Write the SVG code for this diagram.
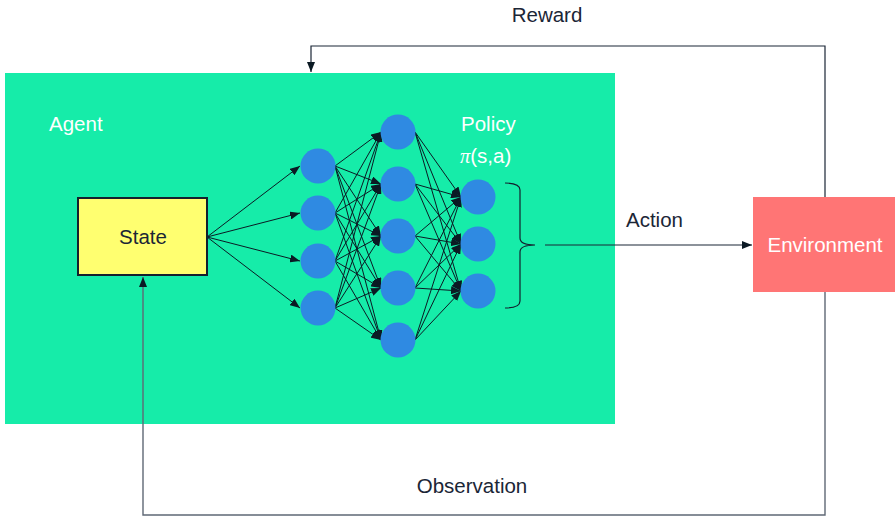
<svg xmlns="http://www.w3.org/2000/svg" width="895" height="516" viewBox="0 0 895 516">
  <style>
    text { font-family: "Liberation Sans", Arial, sans-serif; font-size: 20.5px; }
    .dark { fill: #1b2636; }
    .light { fill: #ffffff; }
    .neuron { fill: #2f8ae2; }
    .edge { stroke: #0b1a24; stroke-width: 1; fill: none; }
    .flow { stroke: #1b2636; stroke-width: 1.2; fill: none; }
  </style>
  <defs>
    <marker id="arr" viewBox="0 0 10 8" refX="10" refY="4" markerWidth="10" markerHeight="8" markerUnits="userSpaceOnUse" orient="auto">
      <path d="M0,0 L10,4 L0,8 z" fill="#0b1a24"/>
    </marker>
  </defs>

  <rect width="895" height="516" fill="#ffffff"/>

  <!-- agent container -->
  <g id="agent">
    <rect x="5" y="73" width="610" height="351" fill="#16eca9"/>
    <text x="49" y="131" class="light">Agent</text>
  </g>

  <!-- environment -->
  <g id="environment">
    <rect x="753" y="197" width="142" height="95" fill="#ff7575"/>
    <text x="825" y="252" class="light" text-anchor="middle">Environment</text>
  </g>

  <!-- connectors -->
  <g id="connectors">
    <!-- reward loop -->
    <path class="flow" d="M825,197 V46 H311 V72" marker-end="url(#arr)"/>
    <!-- observation loop -->
    <path d="M825,292 V515 H143 V277" fill="none" stroke="#5f6875" stroke-width="1.4" marker-end="url(#arr)"/>
    <!-- action -->
    <path class="flow" d="M545,245 H752" marker-end="url(#arr)"/>

    <!-- state to input layer -->
    <g class="edge" marker-end="url(#arr)">
      <path d="M207,237 L300,166"/>
      <path d="M207,237 L300,213"/>
      <path d="M207,237 L300,261"/>
      <path d="M207,237 L300,308"/>
    </g>

    <!-- input layer to hidden layer -->
    <g class="edge" marker-end="url(#arr)">
      <path d="M335,166 L381,132"/><path d="M335,166 L381,184"/><path d="M335,166 L381,236"/><path d="M335,166 L381,288"/><path d="M335,166 L381,340"/>
      <path d="M335,213 L381,132"/><path d="M335,213 L381,184"/><path d="M335,213 L381,236"/><path d="M335,213 L381,288"/><path d="M335,213 L381,340"/>
      <path d="M335,261 L381,132"/><path d="M335,261 L381,184"/><path d="M335,261 L381,236"/><path d="M335,261 L381,288"/><path d="M335,261 L381,340"/>
      <path d="M335,308 L381,132"/><path d="M335,308 L381,184"/><path d="M335,308 L381,236"/><path d="M335,308 L381,288"/><path d="M335,308 L381,340"/>
    </g>

    <!-- hidden layer to output layer -->
    <g class="edge" marker-end="url(#arr)">
      <path d="M415,132 L461,197"/><path d="M415,132 L461,244"/><path d="M415,132 L461,291"/>
      <path d="M415,184 L461,197"/><path d="M415,184 L461,244"/><path d="M415,184 L461,291"/>
      <path d="M415,236 L461,197"/><path d="M415,236 L461,244"/><path d="M415,236 L461,291"/>
      <path d="M415,288 L461,197"/><path d="M415,288 L461,244"/><path d="M415,288 L461,291"/>
      <path d="M415,340 L461,197"/><path d="M415,340 L461,244"/><path d="M415,340 L461,291"/>
    </g>
  </g>

  <!-- state -->
  <g id="state">
    <rect x="78" y="198" width="129" height="77" fill="#ffff70" stroke="#14202e" stroke-width="2"/>
    <text x="143" y="244" class="dark" text-anchor="middle">State</text>
  </g>

  <!-- network layers -->
  <g id="input-layer">
    <circle class="neuron" cx="318" cy="166" r="17.5"/>
    <circle class="neuron" cx="318" cy="213" r="17.5"/>
    <circle class="neuron" cx="318" cy="261" r="17.5"/>
    <circle class="neuron" cx="318" cy="308" r="17.5"/>
  </g>
  <g id="hidden-layer">
    <circle class="neuron" cx="398" cy="132" r="17.5"/>
    <circle class="neuron" cx="398" cy="184" r="17.5"/>
    <circle class="neuron" cx="398" cy="236" r="17.5"/>
    <circle class="neuron" cx="398" cy="288" r="17.5"/>
    <circle class="neuron" cx="398" cy="340" r="17.5"/>
  </g>
  <g id="output-layer">
    <circle class="neuron" cx="478" cy="197" r="17.5"/>
    <circle class="neuron" cx="478" cy="244" r="17.5"/>
    <circle class="neuron" cx="478" cy="291" r="17.5"/>
  </g>

  <!-- policy brace -->
  <g id="policy">
    <path d="M505,183 Q520,183 520,190 V238 Q520,245 535,245 Q520,245 520,252 V301 Q520,308 505,308" fill="none" stroke="#14202e" stroke-width="1.2"/>
    <text x="461" y="131" class="light">Policy</text>
    <text x="460" y="163" class="light"><tspan font-family="'Liberation Serif', serif" font-style="italic">π</tspan>(s,a)</text>
  </g>

  <!-- labels -->
  <g id="labels">
    <text x="547" y="22" class="dark" text-anchor="middle">Reward</text>
    <text x="626" y="227" class="dark">Action</text>
    <text x="472" y="493" class="dark" text-anchor="middle">Observation</text>
  </g>
</svg>
